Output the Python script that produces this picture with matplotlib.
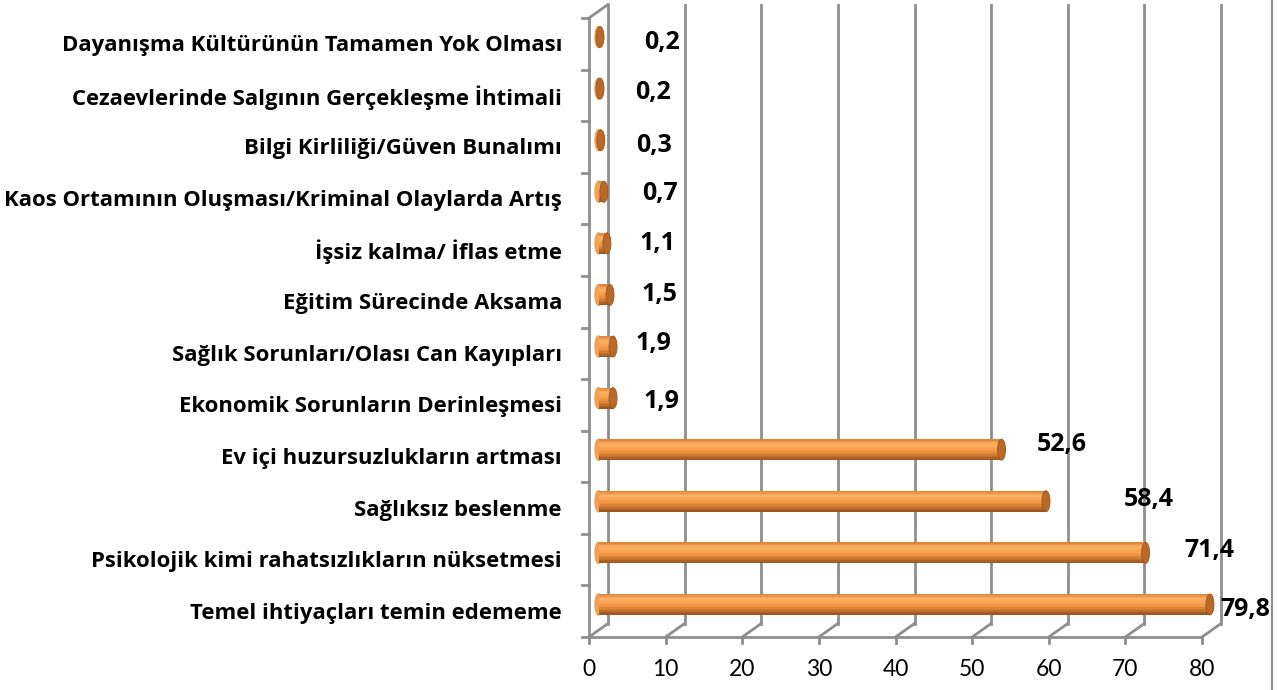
import numpy as np
import matplotlib
matplotlib.use("Agg")
import matplotlib.pyplot as plt
from matplotlib.patches import Ellipse
from matplotlib.lines import Line2D
from matplotlib.colors import LinearSegmentedColormap

# data (bottom -> top)
categories = [
    "Temel ihtiyaçları temin edememe",
    "Psikolojik kimi rahatsızlıkların nüksetmesi",
    "Sağlıksız beslenme",
    "Ev içi huzursuzlukların artması",
    "Ekonomik Sorunların Derinleşmesi",
    "Sağlık Sorunları/Olası Can Kayıpları",
    "Eğitim Sürecinde Aksama",
    "İşsiz kalma/ İflas etme",
    "Kaos Ortamının Oluşması/Kriminal Olaylarda Artış",
    "Bilgi Kirliliği/Güven Bunalımı",
    "Cezaevlerinde Salgının Gerçekleşme İhtimali",
    "Dayanışma Kültürünün Tamamen Yok Olması",
]
values = [79.8, 71.4, 58.4, 52.6, 1.9, 1.9, 1.5, 1.1, 0.7, 0.3, 0.2, 0.2]
value_labels = ["79,8", "71,4", "58,4", "52,6", "1,9", "1,9", "1,5", "1,1", "0,7", "0,3", "0,2", "0,2"]
xticks = [0, 10, 20, 30, 40, 50, 60, 70, 80]

# label placement tweaks (pixels right of bar end / up)
label_dx = [35, 64, 103, 60, 48, 40, 49, 51, 56, 53, 53, 62]
label_dy = [-5, 2, 2, 5, -3, 3, 0, 0, -2, -5, -4, -5]

W, H = 1277, 690
fig = plt.figure(figsize=(W / 100, H / 100), dpi=100)
ax_l, ax_r, ax_t, ax_b = 589, 1202, 18, 637
ax = fig.add_axes([ax_l / W, (H - ax_b) / H, (ax_r - ax_l) / W, (ax_b - ax_t) / H])
ax.set_xlim(0, 80)
ax.set_ylim(-0.5, 11.5)
ax.axis("off")

n = len(categories)
sx = 80 / (ax_r - ax_l)       # data units per px (x)
sy = n / (ax_b - ax_t)        # data units per px (y)
ddx, ddy = 19 * sx, 13.5 * sy  # depth offset of back wall
grid_c = "#8E8E8E"
bold_font = "Open Sans"
tick_font = "Lato"

# back wall gridlines + floor diagonals
for v in xticks:
    ax.plot([v + ddx, v + ddx], [-0.5 + ddy, 11.5 + ddy], color=grid_c, lw=2, clip_on=False, zorder=1)
    ax.plot([v, v + ddx], [-0.5, -0.5 + ddy], color=grid_c, lw=2, clip_on=False, zorder=1)
    ax.plot([v, v], [-0.5, -0.5 - 6 * sy], color=grid_c, lw=2, clip_on=False, zorder=1)
    ax.text(v, -0.5 - 33 * sy, str(v), ha="center", va="center", fontsize=16.5,
            family=tick_font, color="black")

# front floor + left axis
ax.plot([0, 80], [-0.5, -0.5], color=grid_c, lw=2, clip_on=False, zorder=1)
ax.plot([0, 0], [-0.5, 11.5], color=grid_c, lw=2, clip_on=False, zorder=1)
ax.plot([0, ddx], [11.5, 11.5 + ddy], color=grid_c, lw=2, clip_on=False, zorder=1)
for k in range(n + 1):
    ax.plot([-7 * sx, 0], [k - 0.5, k - 0.5], color=grid_c, lw=2, clip_on=False, zorder=1)

# category labels
for i, c in enumerate(categories):
    ax.text(-27 * sx, i - 2 * sy, c, ha="right", va="center", fontsize=15.9, fontweight="bold",
            family=bold_font, color="black")

# cylinders
cmap = LinearSegmentedColormap.from_list(
    "cyl", ["#E0853A", "#FBB266", "#F9A452", "#EE9342", "#C9762F", "#9E5520"])
h = 21 * sy
strips = 14
x0 = ddx / 2
for i, v in enumerate(values):
    yc = i + ddy / 2
    ax.add_patch(Ellipse((x0, yc), 7 * sx, h, color="#F3A050", zorder=3, clip_on=False))
    for s in range(strips):
        yb = yc + h / 2 - (s + 1) * h / strips
        ax.barh(yb + h / strips / 2, v, left=x0, height=h / strips * 1.05,
                color=cmap(s / (strips - 1)), linewidth=0, zorder=4, clip_on=False)
    ax.add_patch(Ellipse((x0 + v, yc), 8 * sx, h, facecolor="#B86A2C",
                         edgecolor="#9A5520", lw=0.6, zorder=5, clip_on=False))
    ax.text(x0 + v + label_dx[i] * sx, yc + label_dy[i] * sy, value_labels[i],
            ha="center", va="center", fontsize=18, fontweight="bold",
            family=bold_font, color="black", zorder=6)

# outer border on the right
fig.add_artist(Line2D([1272 / W, 1272 / W], [0, 1], color="#8C8C8C", lw=1.5))

fig.savefig("out.png", dpi=100)
